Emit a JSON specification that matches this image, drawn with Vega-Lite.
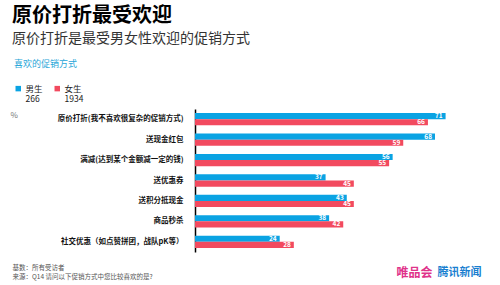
{
  "$schema": "https://vega.github.io/schema/vega-lite/v6.json",
  "width": 300,
  "height": 143,
  "autosize": {"type": "none"},
  "padding": {"left": 195, "top": 109, "right": 5, "bottom": 33},
  "background": "white",
  "config": {
    "font": "Noto Sans CJK SC",
    "view": {"stroke": null}
  },
  "title": {
    "text": "原价打折最受欢迎",
    "subtitle": "原价打折是最受男女性欢迎的促销方式",
    "anchor": "start",
    "frame": "group",
    "dx": -183,
    "offset": 14,
    "fontSize": 20,
    "fontWeight": "bold",
    "color": "#000000",
    "subtitleFontSize": 14,
    "subtitleColor": "#333333",
    "subtitlePadding": 6
  },
  "data": {
    "values": [
      {"cat": "原价打折(我不喜欢很复杂的促销方式)", "gender": "男生", "value": 71},
      {"cat": "原价打折(我不喜欢很复杂的促销方式)", "gender": "女生", "value": 66},
      {"cat": "送现金红包", "gender": "男生", "value": 68},
      {"cat": "送现金红包", "gender": "女生", "value": 59},
      {"cat": "满减(达到某个金额减一定的钱)", "gender": "男生", "value": 56},
      {"cat": "满减(达到某个金额减一定的钱)", "gender": "女生", "value": 55},
      {"cat": "送优惠券", "gender": "男生", "value": 37},
      {"cat": "送优惠券", "gender": "女生", "value": 45},
      {"cat": "送积分抵现金", "gender": "男生", "value": 43},
      {"cat": "送积分抵现金", "gender": "女生", "value": 45},
      {"cat": "商品秒杀", "gender": "男生", "value": 38},
      {"cat": "商品秒杀", "gender": "女生", "value": 42},
      {"cat": "社交优惠（如点赞拼团，战队pK等）", "gender": "男生", "value": 24},
      {"cat": "社交优惠（如点赞拼团，战队pK等）", "gender": "女生", "value": 28}
    ]
  },
  "encoding": {
    "yOffset": {"field": "gender", "type": "nominal", "sort": ["男生", "女生"]},
    "x": {
      "field": "value",
      "type": "quantitative",
      "scale": {"domain": [0, 85]}
    }
  },
  "resolve": {"axis": {"x": "independent", "y": "independent"}},
  "layer": [
    {
      "mark": {"type": "bar"},
      "encoding": {
        "y": {
          "field": "cat",
          "type": "nominal",
          "sort": null,
          "scale": {"paddingInner": 0.4, "paddingOuter": 0.2},
          "axis": {
            "orient": "left",
            "title": "%",
            "titleAngle": 0,
            "titleX": -185,
            "titleY": 10,
            "titleAlign": "left",
            "titleFontSize": 8,
            "titleFontWeight": "normal",
            "titleColor": "#777777",
            "domainColor": "#000000",
            "domainWidth": 1.5,
            "ticks": false,
            "labelFontSize": 7.5,
            "labelFontWeight": "bold",
            "labelColor": "#111111",
            "labelPadding": 12
          }
        },
        "x": {
          "field": "value",
          "type": "quantitative",
          "axis": {
            "orient": "bottom",
            "title": ["基数：所有受访者", "来源：Q14 请问以下促销方式中您比较喜欢的是?"],
            "titleAlign": "left",
            "titleAnchor": "start",
            "titleX": -183,
            "titleY": 12,
            "titleBaseline": "top",
            "titleFontSize": 6.5,
            "titleFontWeight": "normal",
            "titleColor": "#555555",
            "titleLineHeight": 9,
            "domain": false,
            "ticks": false,
            "labels": false,
            "grid": false
          }
        },
        "color": {
          "field": "gender",
          "type": "nominal",
          "sort": ["男生", "女生"],
          "scale": {"domain": ["男生", "女生"], "range": ["#0aa3e3", "#f24a5f"]},
          "legend": {
            "title": "喜欢的促销方式",
            "orient": "none",
            "direction": "horizontal",
            "legendX": -181,
            "legendY": -49,
            "titleColor": "#2aa6d8",
            "titleFontSize": 9,
            "titleFontWeight": "normal",
            "titlePadding": 15,
            "symbolType": "square",
            "symbolSize": 30,
            "labelFontSize": 8.5,
            "labelLineHeight": 10,
            "labelColor": "#222222",
            "labelOffset": 3,
            "labelExpr": "datum.label == '男生' ? ['男生', '266'] : ['女生', '1934']",
            "columnPadding": 10
          }
        }
      }
    },
    {
      "mark": {"type": "text", "align": "right", "dx": -3, "fontSize": 6.5, "fontWeight": "bold", "color": "white"},
      "encoding": {
        "y": {
          "field": "cat",
          "type": "nominal",
          "sort": null,
          "axis": {
            "orient": "right",
            "title": "腾讯新闻",
            "titleAngle": 0,
            "titleAlign": "left",
            "titleX": -58,
            "titleY": 163,
            "titleBaseline": "middle",
            "titleFontSize": 11,
            "titleFontWeight": "bold",
            "titleColor": "#1a7fd0",
            "domain": false,
            "ticks": false,
            "labels": false,
            "grid": false
          }
        },
        "x": {
          "field": "value",
          "type": "quantitative",
          "axis": {
            "orient": "top",
            "title": "唯品会",
            "titleAlign": "right",
            "titleX": 237,
            "titleY": 163,
            "titleBaseline": "middle",
            "titleFontSize": 12,
            "titleFontWeight": "bold",
            "titleColor": "#e0338a",
            "domain": false,
            "ticks": false,
            "labels": false,
            "grid": false
          }
        },
        "text": {"field": "value", "type": "quantitative"}
      }
    }
  ]
}
